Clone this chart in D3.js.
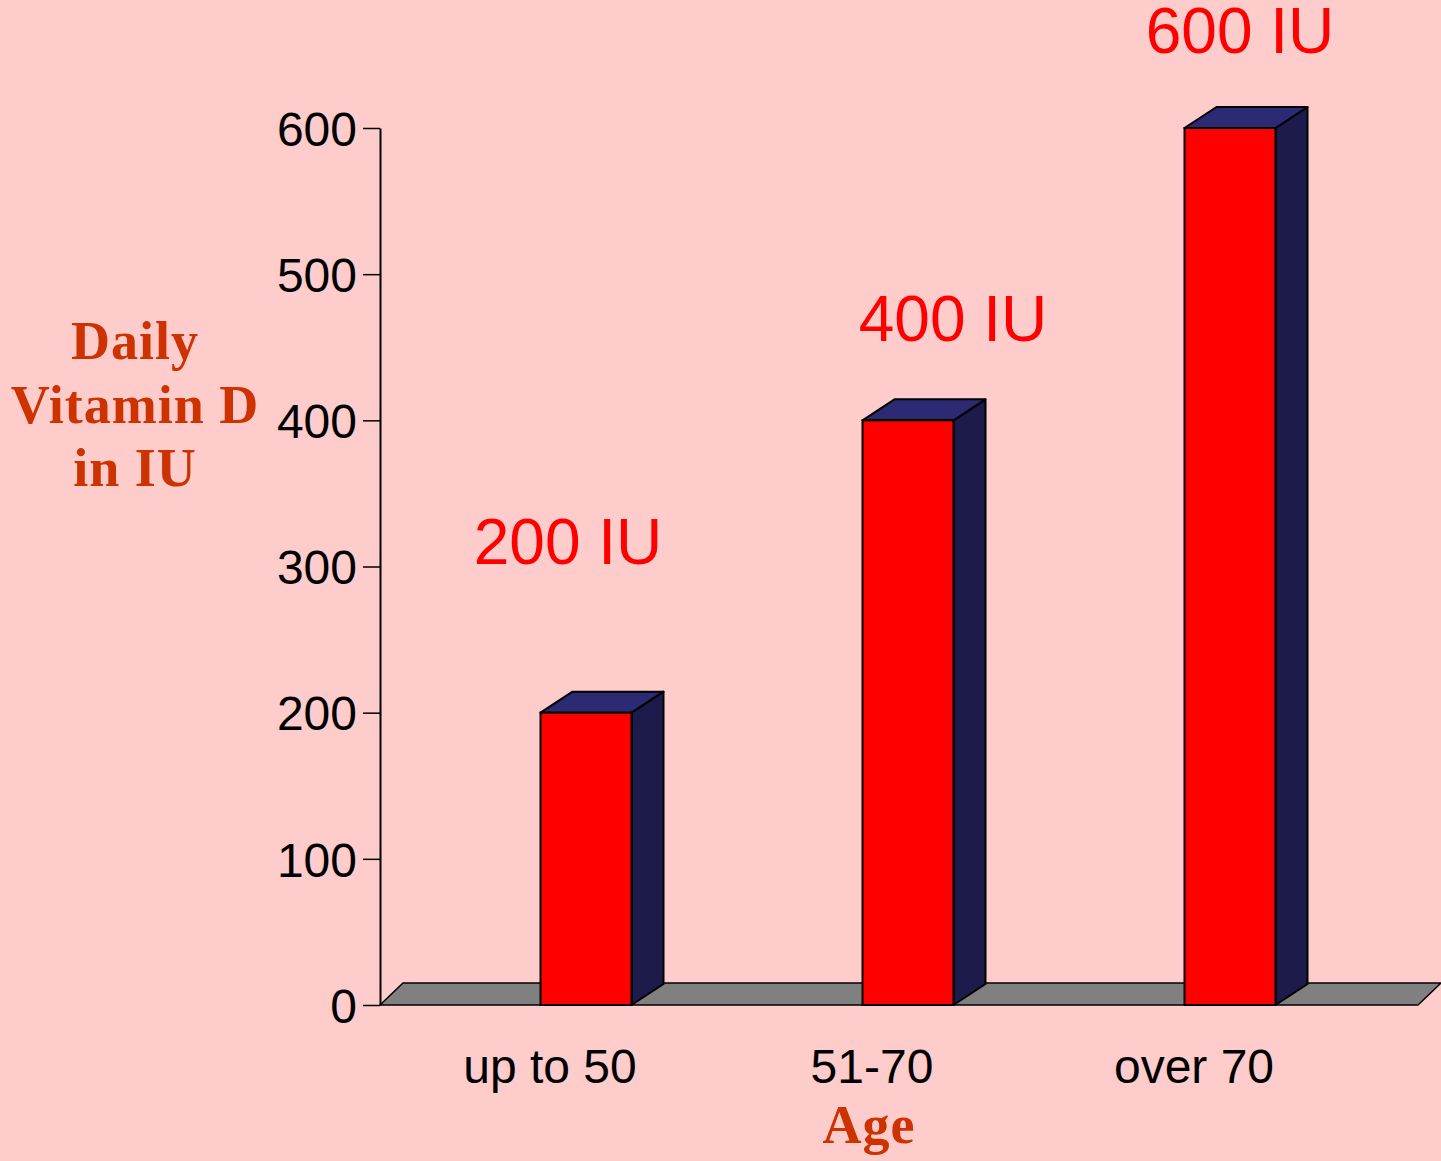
<!DOCTYPE html>
<html>
<head>
<meta charset="utf-8">
<script src="https://cdn.jsdelivr.net/npm/d3@7"></script>
<style>
  html, body { margin: 0; padding: 0; background: #FFCCCC; }
  svg { display: block; }
</style>
</head>
<body>
<svg id="chart" width="1441" height="1161"></svg>
<script>
const categories = ["up to 50", "51-70", "over 70"];
const values = [200, 400, 600];
const valueLabels = ["200 IU", "400 IU", "600 IU"];
const yTicks = [0, 100, 200, 300, 400, 500, 600];
const yTitle = ["Daily", "Vitamin D", "in IU"];
const xTitle = "Age";

// layout (not data)
const labelDx = [-18, 45, 10];
const labelDy = [-149, -79, -75];

const W = 1441, H = 1161;
const svg = d3.select("#chart");
svg.append("rect").attr("width", W).attr("height", H).attr("fill", "#FFCCCC");

const y = d3.scaleLinear().domain([0, 600]).range([1005, 128]);
const xc = d3.scalePoint().domain(categories).range([550, 1194]);
const barW = 91, barOff = 36;
const depth = { dx: 32, dy: -21 };
const floorDepth = { dx: 23, dy: -22 };
const axisX = 380, floorRight = 1418;
const sans = "Arial, 'Liberation Sans', sans-serif";

// floor
const fy = y(0);
svg.append("path")
  .attr("d", `M${axisX},${fy} L${axisX + floorDepth.dx},${fy + floorDepth.dy} L${floorRight + floorDepth.dx},${fy + floorDepth.dy} L${floorRight},${fy} Z`)
  .attr("fill", "#808080").attr("stroke", "#000").attr("stroke-width", 1.5);

// y axis
const yAxis = d3.axisLeft(y).tickValues(yTicks).tickSize(17).tickSizeOuter(0).tickPadding(6);
const ga = svg.append("g").attr("transform", `translate(${axisX},0)`).call(yAxis);
ga.selectAll("path.domain").attr("stroke", "#000").attr("stroke-width", 2);
ga.selectAll(".tick line").attr("stroke", "#000").attr("stroke-width", 1.5);
ga.selectAll(".tick text").attr("font-family", sans)
  .attr("font-size", 48).attr("fill", "#000").attr("dy", "0.36em");

// bars
const bars = svg.append("g");
categories.forEach((c, i) => {
  const x0 = xc(c) + barOff - barW / 2;
  const x1 = x0 + barW;
  const yt = y(values[i]);
  const yb = y(0);
  const g = bars.append("g");
  g.append("path")
    .attr("d", `M${x1},${yt} L${x1 + depth.dx},${yt + depth.dy} L${x1 + depth.dx},${yb + depth.dy} L${x1},${yb} Z`)
    .attr("fill", "#1C1B4B").attr("stroke", "#000").attr("stroke-width", 2).attr("stroke-linejoin", "round");
  g.append("path")
    .attr("d", `M${x0},${yt} L${x0 + depth.dx},${yt + depth.dy} L${x1 + depth.dx},${yt + depth.dy} L${x1},${yt} Z`)
    .attr("fill", "#2B2A73").attr("stroke", "#000").attr("stroke-width", 2).attr("stroke-linejoin", "round");
  g.append("rect")
    .attr("x", x0).attr("y", yt).attr("width", barW).attr("height", yb - yt)
    .attr("fill", "#FF0000").attr("stroke", "#000").attr("stroke-width", 2);
  svg.append("text")
    .attr("x", xc(c) + barOff + labelDx[i]).attr("y", yt + labelDy[i])
    .attr("text-anchor", "middle")
    .attr("font-family", sans)
    .attr("font-size", 64).attr("fill", "#FF0000")
    .text(valueLabels[i]);
  svg.append("text")
    .attr("x", xc(c)).attr("y", 1083)
    .attr("text-anchor", "middle")
    .attr("font-family", sans)
    .attr("font-size", 48).attr("fill", "#000")
    .text(c);
});

// axis titles
const serif = "'Times New Roman', 'Liberation Serif', 'DejaVu Serif', serif";
svg.append("text").attr("x", 869).attr("y", 1143).attr("text-anchor", "middle")
  .attr("font-family", serif).attr("font-weight", "bold").attr("font-size", 54)
  .attr("letter-spacing", 1)
  .attr("fill", "#CC3300").text(xTitle);
const ytt = svg.append("text").attr("text-anchor", "middle")
  .attr("font-family", serif).attr("font-weight", "bold").attr("font-size", 54)
  .attr("letter-spacing", 1)
  .attr("fill", "#CC3300");
yTitle.forEach((t, i) => {
  ytt.append("tspan").attr("x", 135).attr("y", 359 + i * 63.5).text(t);
});
</script>
</body>
</html>
